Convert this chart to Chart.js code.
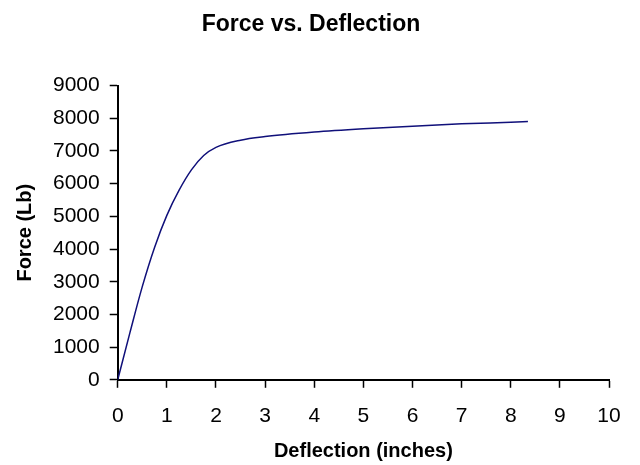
<!DOCTYPE html>
<html>
<head>
<meta charset="utf-8">
<script src="https://cdn.jsdelivr.net/npm/chart.js@4"></script>
<style>
  html, body { margin: 0; padding: 0; background: #fff; }
  #wrap { width: 640px; height: 465px; }
</style>
</head>
<body>
<div id="wrap"><canvas id="chart"></canvas></div>
<script>
// deflection (inches)
const deflection = [0, 0.25, 0.5, 0.75, 1.0, 1.25, 1.5, 1.75, 2.0, 2.5, 3.0, 4.0, 5.0, 6.0, 7.0, 8.0, 8.35];
// force (Lb) at each deflection
const force = [0, 1450, 2850, 4050, 5030, 5800, 6420, 6860, 7110, 7330, 7440, 7580, 7680, 7760, 7830, 7880, 7900];

const xTicks = [0, 1, 2, 3, 4, 5, 6, 7, 8, 9, 10];
const yTicks = [0, 1000, 2000, 3000, 4000, 5000, 6000, 7000, 8000, 9000];

const font = "'Liberation Sans', Arial, sans-serif";

const points = deflection.map((d, i) => ({ x: d, y: force[i] }));

new Chart(document.getElementById('chart'), {
  type: 'line',
  data: {
    datasets: [
      {
        label: 'Force',
        data: points,
        borderColor: '#10107a',
        borderWidth: 1.5,
        pointRadius: 0,
        fill: false,
        cubicInterpolationMode: 'monotone',
      },
    ],
  },
  options: {
    responsive: true,
    maintainAspectRatio: false,
    animation: false,
    layout: { padding: { left: 13, right: 31, top: 11, bottom: 2 } },
    plugins: {
      legend: { display: false },
      tooltip: { enabled: false },
      title: {
        display: true,
        text: 'Force vs. Deflection',
        color: '#000',
        font: { family: font, size: 23, weight: 'bold' },
        padding: { top: 0, bottom: 47 },
      },
    },
    scales: {
      x: {
        type: 'linear',
        min: xTicks[0],
        max: xTicks[xTicks.length - 1],
        afterBuildTicks: axis => { axis.ticks = xTicks.map(v => ({ value: v })); },
        grid: { drawOnChartArea: false, drawTicks: true, tickLength: 8, color: '#000', tickWidth: 1.5 },
        border: { display: true, color: '#000', width: 2 },
        ticks: { color: '#000', font: { family: font, size: 21 }, padding: 16, maxRotation: 0, callback: v => String(v) },
        title: {
          display: true,
          text: 'Deflection (inches)',
          color: '#000',
          font: { family: font, size: 20, weight: 'bold' },
          padding: { top: -6, bottom: 0 },
        },
      },
      y: {
        type: 'linear',
        min: yTicks[0],
        max: yTicks[yTicks.length - 1],
        afterBuildTicks: axis => { axis.ticks = yTicks.map(v => ({ value: v })); },
        grid: { drawOnChartArea: false, drawTicks: true, tickLength: 8, color: '#000', tickWidth: 1.5 },
        border: { display: true, color: '#000', width: 2 },
        ticks: { color: '#000', font: { family: font, size: 21 }, padding: 10, callback: v => String(v) },
        title: {
          display: true,
          text: 'Force (Lb)',
          color: '#000',
          font: { family: font, size: 20, weight: 'bold' },
          padding: { top: 0, bottom: 6 },
        },
      },
    },
  },
});
</script>
</body>
</html>
